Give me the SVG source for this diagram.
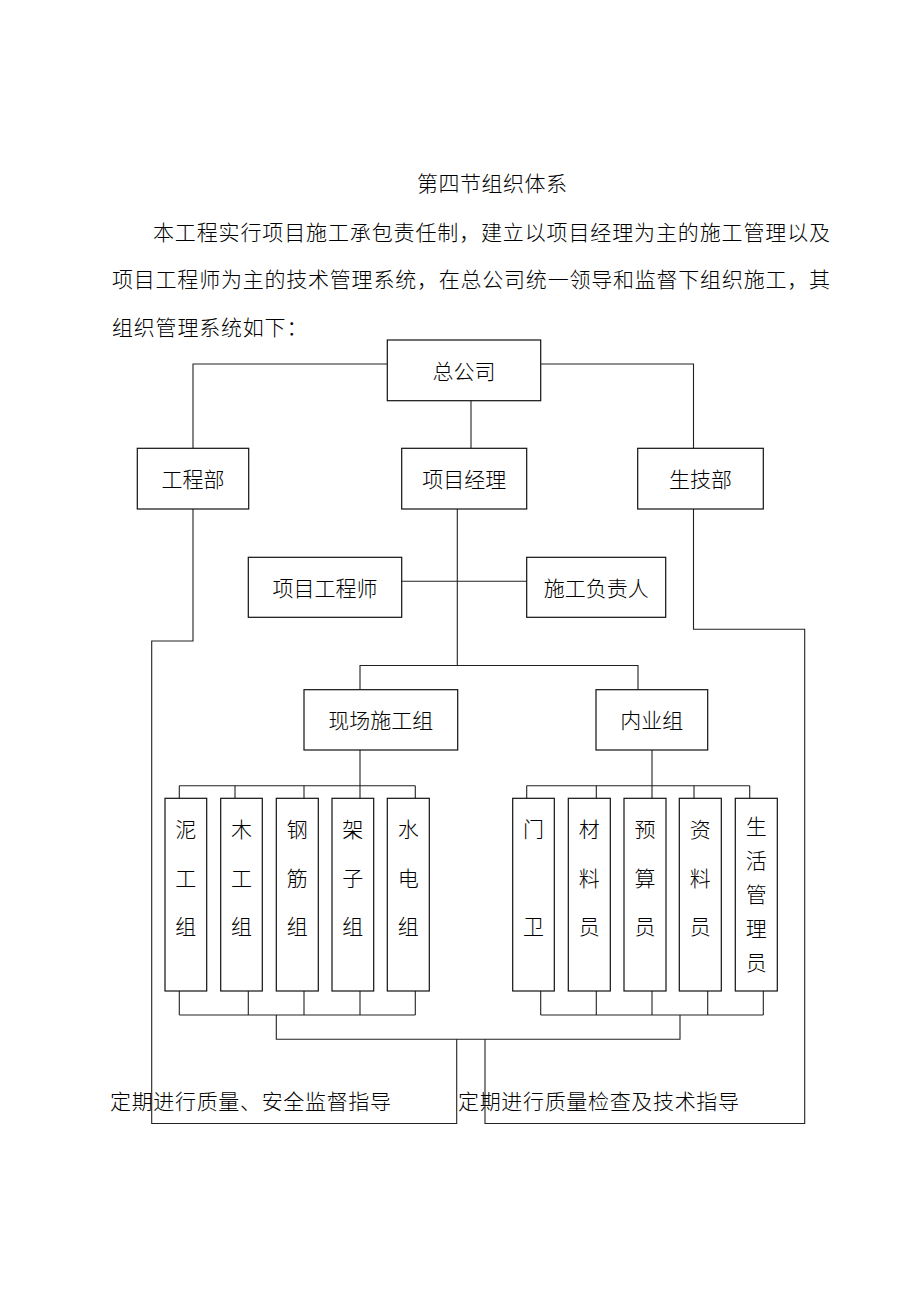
<svg xmlns="http://www.w3.org/2000/svg" width="920" height="1302" viewBox="0 0 920 1302">
<style>
  .bg { fill: #ffffff; }
  .box { fill: #ffffff; stroke: #111111; stroke-width: 1.2; }
  .ln { fill: none; stroke: #222222; stroke-width: 1.1; }
  text { font-family: "Liberation Serif", "Noto Sans CJK SC", serif; fill: #000000; font-size: 21px; font-weight: 300; }
  .c { text-anchor: middle; }
  .para { letter-spacing: 0.8px; }
</style>
<rect class="bg" x="0" y="0" width="920" height="1302"/>

<g id="header">
  <text x="417" y="191" letter-spacing="0.5">第四节组织体系</text>
  <text x="153" y="240" textLength="677" lengthAdjust="spacing">本工程实行项目施工承包责任制，建立以项目经理为主的施工管理以及</text>
  <text x="112" y="287" textLength="718" lengthAdjust="spacing">项目工程师为主的技术管理系统，在总公司统一领导和监督下组织施工，其</text>
  <text x="112" y="335" class="para">组织管理系统如下：</text>
</g>

<g id="connectors">
  <polyline class="ln" points="387.3,364 193,364 193,448.3"/>
  <polyline class="ln" points="540.7,364 693.5,364 693.5,448.3"/>
  <line class="ln" x1="471" y1="400.7" x2="471" y2="448.3"/>
  <line class="ln" x1="457.3" y1="509" x2="457.3" y2="665.5"/>
  <line class="ln" x1="401.7" y1="581.3" x2="526.7" y2="581.3"/>
  <polyline class="ln" points="360,689.7 360,665.5 638,665.5 638,689.7"/>
  <line class="ln" x1="360" y1="750" x2="360" y2="798.3"/>
  <line class="ln" x1="179.3" y1="785.7" x2="415.3" y2="785.7"/>
  <line class="ln" x1="179.3" y1="785.7" x2="179.3" y2="798.3"/>
  <line class="ln" x1="235" y1="785.7" x2="235" y2="798.3"/>
  <line class="ln" x1="304" y1="785.7" x2="304" y2="798.3"/>
  <line class="ln" x1="415.3" y1="785.7" x2="415.3" y2="798.3"/>
  <line class="ln" x1="179.3" y1="1015" x2="415.3" y2="1015"/>
  <line class="ln" x1="179.3" y1="991" x2="179.3" y2="1015"/>
  <line class="ln" x1="248.3" y1="991" x2="248.3" y2="1015"/>
  <line class="ln" x1="304" y1="991" x2="304" y2="1015"/>
  <line class="ln" x1="360" y1="991" x2="360" y2="1015"/>
  <line class="ln" x1="415.3" y1="991" x2="415.3" y2="1015"/>
  <line class="ln" x1="652" y1="750" x2="652" y2="798.3"/>
  <line class="ln" x1="526.7" y1="785.7" x2="749.7" y2="785.7"/>
  <line class="ln" x1="526.7" y1="785.7" x2="526.7" y2="798.3"/>
  <line class="ln" x1="596.3" y1="785.7" x2="596.3" y2="798.3"/>
  <line class="ln" x1="694" y1="785.7" x2="694" y2="798.3"/>
  <line class="ln" x1="749.7" y1="785.7" x2="749.7" y2="798.3"/>
  <line class="ln" x1="540.7" y1="1015" x2="763.3" y2="1015"/>
  <line class="ln" x1="540.7" y1="991" x2="540.7" y2="1015"/>
  <line class="ln" x1="596.3" y1="991" x2="596.3" y2="1015"/>
  <line class="ln" x1="652" y1="991" x2="652" y2="1015"/>
  <line class="ln" x1="707.7" y1="991" x2="707.7" y2="1015"/>
  <line class="ln" x1="763.3" y1="991" x2="763.3" y2="1015"/>
  <polyline class="ln" points="276.3,1015 276.3,1039.3 680,1039.3 680,1015"/>
  <polyline class="ln" points="193,509 193,641 151.7,641 151.7,1123.5 456.7,1123.5 456.7,1039.3"/>
  <polyline class="ln" points="693.5,509 693.5,629.3 804.7,629.3 804.7,1123.5 485,1123.5 485,1039.3"/>
</g>

<g id="n-zonggongsi">
  <rect class="box" x="387.3" y="340" width="153.4" height="60.7"/>
  <text class="c" x="464" y="379">总公司</text>
</g>
<g id="n-gongchengbu">
  <rect class="box" x="137.3" y="448.3" width="111.4" height="60.7"/>
  <text class="c" x="193" y="487">工程部</text>
</g>
<g id="n-xiangmujingli">
  <rect class="box" x="401.7" y="448.3" width="125" height="60.7"/>
  <text class="c" x="464.2" y="487">项目经理</text>
</g>
<g id="n-shengjibu">
  <rect class="box" x="637.7" y="448.3" width="125.6" height="60.7"/>
  <text class="c" x="700.5" y="487">生技部</text>
</g>
<g id="n-xiangmugongchengshi">
  <rect class="box" x="248.3" y="557.3" width="153.4" height="60"/>
  <text class="c" x="325" y="595.5">项目工程师</text>
</g>
<g id="n-shigongfuzeren">
  <rect class="box" x="526.7" y="557.3" width="139" height="60"/>
  <text class="c" x="596.2" y="595.5">施工负责人</text>
</g>
<g id="n-xianchangshigongzu">
  <rect class="box" x="304" y="689.7" width="153.7" height="60.3"/>
  <text class="c" x="380.8" y="728">现场施工组</text>
</g>
<g id="n-neiyezu">
  <rect class="box" x="596" y="689.7" width="111.7" height="60.3"/>
  <text class="c" x="651.8" y="728">内业组</text>
</g>

<g id="n-nigongzu">
  <rect class="box" x="165" y="798.3" width="41.7" height="192.7"/>
  <text class="c" x="185.8" y="837">泥</text>
  <text class="c" x="185.8" y="886">工</text>
  <text class="c" x="185.8" y="934">组</text>
</g>
<g id="n-mugongzu">
  <rect class="box" x="220.7" y="798.3" width="41.6" height="192.7"/>
  <text class="c" x="241.5" y="837">木</text>
  <text class="c" x="241.5" y="886">工</text>
  <text class="c" x="241.5" y="934">组</text>
</g>
<g id="n-gangjinzu">
  <rect class="box" x="276.3" y="798.3" width="42" height="192.7"/>
  <text class="c" x="297.3" y="837">钢</text>
  <text class="c" x="297.3" y="886">筋</text>
  <text class="c" x="297.3" y="934">组</text>
</g>
<g id="n-jiazizu">
  <rect class="box" x="332" y="798.3" width="41.7" height="192.7"/>
  <text class="c" x="352.8" y="837">架</text>
  <text class="c" x="352.8" y="886">子</text>
  <text class="c" x="352.8" y="934">组</text>
</g>
<g id="n-shuidianzu">
  <rect class="box" x="387.3" y="798.3" width="42" height="192.7"/>
  <text class="c" x="408.3" y="837">水</text>
  <text class="c" x="408.3" y="886">电</text>
  <text class="c" x="408.3" y="934">组</text>
</g>

<g id="n-menwei">
  <rect class="box" x="512.7" y="798.3" width="41.6" height="192.7"/>
  <text class="c" x="533.5" y="837">门</text>
  <text class="c" x="533.5" y="934">卫</text>
</g>
<g id="n-cailiaoyuan">
  <rect class="box" x="568.3" y="798.3" width="42" height="192.7"/>
  <text class="c" x="589.3" y="837">材</text>
  <text class="c" x="589.3" y="886">料</text>
  <text class="c" x="589.3" y="934">员</text>
</g>
<g id="n-yusuanyuan">
  <rect class="box" x="624" y="798.3" width="42" height="192.7"/>
  <text class="c" x="645" y="837">预</text>
  <text class="c" x="645" y="886">算</text>
  <text class="c" x="645" y="934">员</text>
</g>
<g id="n-ziliaoyuan">
  <rect class="box" x="679.3" y="798.3" width="42" height="192.7"/>
  <text class="c" x="700.3" y="837">资</text>
  <text class="c" x="700.3" y="886">料</text>
  <text class="c" x="700.3" y="934">员</text>
</g>
<g id="n-shenghuoguanliyuan">
  <rect class="box" x="735.3" y="798.3" width="42" height="192.7"/>
  <text class="c" x="756.3" y="834">生</text>
  <text class="c" x="756.3" y="868">活</text>
  <text class="c" x="756.3" y="902">管</text>
  <text class="c" x="756.3" y="936">理</text>
  <text class="c" x="756.3" y="970">员</text>
</g>

<g id="labels">
  <text x="110" y="1109" textLength="281" lengthAdjust="spacing">定期进行质量、安全监督指导</text>
  <text x="458" y="1109" textLength="281" lengthAdjust="spacing">定期进行质量检查及技术指导</text>
</g>
</svg>
